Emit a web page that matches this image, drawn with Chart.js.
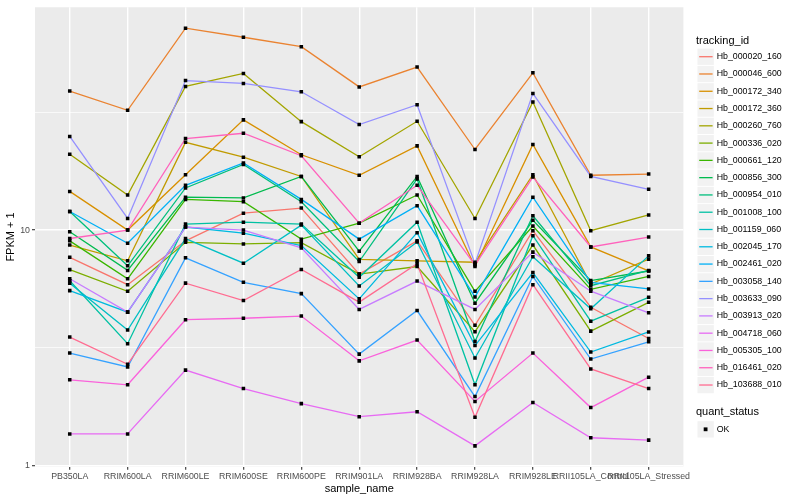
<!DOCTYPE html>
<html>
<head>
<meta charset="utf-8">
<script src="https://cdn.jsdelivr.net/npm/chart.js@4.4.1/dist/chart.umd.min.js"></script>
<style>
  html, body { margin: 0; padding: 0; background: #fff; }
  #wrap { width: 800px; height: 500px; }
</style>
</head>
<body>
<div id="wrap"><canvas id="myChart"></canvas></div>
<script>
const samples = ["PB350LA", "RRIM600LA", "RRIM600LE", "RRIM600SE", "RRIM600PE", "RRIM901LA",
  "RRIM928BA", "RRIM928LA", "RRIM928LE", "RRII105LA_Control", "RRII105LA_Stressed"];

const trackingIds = ["Hb_000020_160", "Hb_000046_600", "Hb_000172_340", "Hb_000172_360",
  "Hb_000260_760", "Hb_000336_020", "Hb_000661_120", "Hb_000856_300", "Hb_000954_010",
  "Hb_001008_100", "Hb_001159_060", "Hb_002045_170", "Hb_002461_020", "Hb_003058_140",
  "Hb_003633_090", "Hb_003913_020", "Hb_004718_060", "Hb_005305_100", "Hb_016461_020",
  "Hb_103688_010"];

const colours = ["#F8766D", "#EA8331", "#D89000", "#C09B00", "#A3A500", "#7CAE00", "#39B600",
  "#00BB4E", "#00BF7D", "#00C1A3", "#00BFC4", "#00BAE0", "#00B0F6", "#35A2FF", "#9590FF",
  "#C77CFF", "#E76BF3", "#FA62DB", "#FF62BC", "#FF6C91"];

// FPKM + 1 per sample, one array per tracking id
const hb_000020_160 = [7.66, 5.86, 9.0, 11.8, 12.4, 6.5, 9.0, 3.94, 9.94, 4.7, 3.46];
const hb_000046_600 = [39.0, 32.3, 72.1, 66.0, 60.2, 40.6, 49.3, 22.0, 46.6, 17.1, 17.3];
const hb_000172_340 = [14.6, 10.0, 17.2, 29.4, 20.9, 17.1, 22.8, 7.0, 23.1, 8.48, 6.71];
const hb_000172_360 = [8.64, 7.40, 23.6, 20.4, 16.9, 7.5, 7.4, 7.3, 17.2, 5.9, 7.52];
const hb_000260_760 = [21.0, 14.1, 40.8, 46.3, 28.9, 20.5, 29.0, 11.2, 35.0, 9.94, 11.6];
const hb_000336_020 = [6.79, 5.49, 8.87, 8.73, 8.85, 6.5, 7.0, 3.7, 8.64, 3.72, 4.93];
const hb_000661_120 = [9.0, 6.21, 13.5, 13.2, 9.15, 10.7, 14.1, 5.49, 10.4, 5.6, 6.35];
const hb_000856_300 = [9.84, 6.74, 13.8, 13.7, 16.9, 8.13, 16.9, 4.89, 11.0, 6.1, 6.70];
const hb_000954_010 = [12.0, 7.05, 15.1, 19.0, 13.2, 7.35, 16.5, 3.36, 11.5, 5.8, 6.74];
const hb_001008_100 = [6.09, 3.29, 10.6, 10.8, 10.6, 6.3, 10.8, 2.20, 9.46, 4.10, 5.18];
const hb_001159_060 = [5.95, 3.76, 9.2, 7.23, 10.5, 5.79, 8.9, 2.86, 7.7, 4.63, 7.77];
const hb_002045_170 = [5.53, 4.48, 10.3, 9.7, 8.6, 5.1, 9.75, 3.23, 6.6, 3.03, 3.69];
const hb_002461_020 = [12.0, 8.79, 15.5, 19.3, 13.5, 9.15, 12.7, 5.2, 13.8, 6.0, 5.62];
const hb_003058_140 = [3.0, 2.62, 7.62, 6.0, 5.37, 2.97, 4.55, 1.96, 6.35, 2.83, 3.35];
const hb_003633_090 = [25.0, 11.2, 43.2, 42.0, 38.7, 28.1, 34.1, 7.2, 38.1, 16.9, 14.9];
const hb_003913_020 = [6.21, 4.48, 10.3, 10.0, 8.4, 4.6, 6.07, 4.6, 8.06, 5.5, 4.45];
const hb_004718_060 = [1.36, 1.36, 2.54, 2.12, 1.83, 1.61, 1.69, 1.21, 1.85, 1.31, 1.28];
const hb_005305_100 = [2.31, 2.20, 4.16, 4.22, 4.31, 2.78, 3.41, 1.87, 3.0, 1.76, 2.37];
const hb_016461_020 = [9.21, 10.0, 24.5, 25.8, 20.7, 10.7, 15.5, 7.1, 16.8, 8.48, 9.34];
const hb_103688_010 = [3.51, 2.69, 5.95, 5.02, 6.80, 4.94, 7.2, 1.60, 5.86, 2.57, 2.12];

const yTicks = [1, 3.1623, 10, 31.623];
const yMajor = [1, 10];

const series = [hb_000020_160, hb_000046_600, hb_000172_340, hb_000172_360, hb_000260_760,
  hb_000336_020, hb_000661_120, hb_000856_300, hb_000954_010, hb_001008_100, hb_001159_060,
  hb_002045_170, hb_002461_020, hb_003058_140, hb_003633_090, hb_003913_020, hb_004718_060,
  hb_005305_100, hb_016461_020, hb_103688_010];

const FONT = "'Liberation Sans', Arial, sans-serif";

const datasets = series.map((vals, i) => ({
  label: trackingIds[i],
  data: vals.map((v, j) => ({ x: j, y: v })),
  borderColor: colours[i],
  borderWidth: 1.3,
  pointRadius: 0,
  fill: false,
  tension: 0,
  order: series.length - i
}));

// quant_status = OK points, drawn on top of every line
datasets.push({
  label: "OK",
  data: series.flatMap(vals => vals.map((v, j) => ({ x: j, y: v }))),
  showLine: false,
  pointStyle: "rect",
  pointRadius: 2.5,
  pointBackgroundColor: "#000",
  pointBorderWidth: 0,
  order: -1
});

const panelBg = {
  id: "panelBg",
  beforeDraw(chart) {
    const a = chart.chartArea;
    const ctx = chart.ctx;
    ctx.save();
    ctx.fillStyle = "#EBEBEB";
    ctx.fillRect(a.left, a.top, a.right - a.left, a.bottom - a.top);
    ctx.restore();
  }
};

const ggLegend = {
  id: "ggLegend",
  afterDraw(chart) {
    const ctx = chart.ctx;
    ctx.save();
    ctx.textBaseline = "middle";
    ctx.textAlign = "left";
    ctx.fillStyle = "#000";
    ctx.font = "11px " + FONT;
    ctx.fillText("tracking_id", 696, 41);
    ctx.font = "8.8px " + FONT;
    trackingIds.forEach((id, i) => {
      const y = 56.7 + 17.28 * i;
      ctx.fillStyle = "#F2F2F2";
      ctx.fillRect(697.5, y - 8.1, 16.3, 16.3);
      ctx.strokeStyle = colours[i];
      ctx.lineWidth = 1.3;
      ctx.beginPath();
      ctx.moveTo(699.2, y);
      ctx.lineTo(712.6, y);
      ctx.stroke();
      ctx.fillStyle = "#000";
      ctx.fillText(id, 716.7, y);
    });
    ctx.font = "11px " + FONT;
    ctx.fillText("quant_status", 696, 412.3);
    const yk = 429.3;
    ctx.fillStyle = "#F2F2F2";
    ctx.fillRect(697.5, yk - 8.1, 16.3, 16.3);
    ctx.fillStyle = "#000";
    ctx.fillRect(703.7, yk - 1.9, 3.8, 3.8);
    ctx.font = "8.8px " + FONT;
    ctx.fillText("OK", 716.7, yk);
    ctx.restore();
  }
};

new Chart(document.getElementById("myChart"), {
  type: "line",
  data: { datasets: datasets },
  plugins: [panelBg, ggLegend],
  options: {
    responsive: true,
    maintainAspectRatio: false,
    animation: false,
    events: [],
    layout: { padding: { top: 5, right: 116.6, bottom: 0, left: 0 } },
    plugins: { legend: { display: false }, tooltip: { enabled: false } },
    scales: {
      x: {
        type: "linear",
        min: -0.6,
        max: samples.length - 1 + 0.6,
        afterBuildTicks: scale => { scale.ticks = samples.map((s, i) => ({ value: i })); },
        afterFit: scale => { scale.height = 33.3; },
        border: { display: false },
        grid: { color: "#FFFFFF", lineWidth: 1.4, tickLength: 3, tickColor: "#333333", tickWidth: 1.1 },
        ticks: {
          autoSkip: false, maxRotation: 0, minRotation: 0, padding: 2,
          color: "#4D4D4D", font: { family: FONT, size: 8.8 },
          callback: v => samples[v]
        },
        title: { display: true, text: "sample_name", color: "#000",
          font: { family: FONT, size: 11 }, padding: { top: 0, bottom: 4.4 } }
      },
      y: {
        type: "logarithmic",
        min: 0.987,
        max: 88.5,
        afterBuildTicks: scale => { scale.ticks = yTicks.map(v => ({ value: v })); },
        afterFit: scale => { scale.width = 35; },
        border: { display: false },
        grid: {
          color: "#FFFFFF",
          lineWidth: c => yMajor.includes(c.tick && c.tick.value) ? 1.4 : 0.7,
          tickLength: 3,
          tickWidth: 1.1,
          tickColor: c => yMajor.includes(c.tick && c.tick.value) ? "#333333" : "rgba(0,0,0,0)"
        },
        ticks: {
          autoSkip: false, padding: 2, color: "#4D4D4D", font: { family: FONT, size: 8.8 },
          callback: v => yMajor.includes(v) ? String(v) : ""
        },
        title: { display: true, text: "FPKM + 1", color: "#000",
          font: { family: FONT, size: 11 }, padding: { top: 4.4, bottom: 0 } }
      }
    }
  }
});
</script>
</body>
</html>
